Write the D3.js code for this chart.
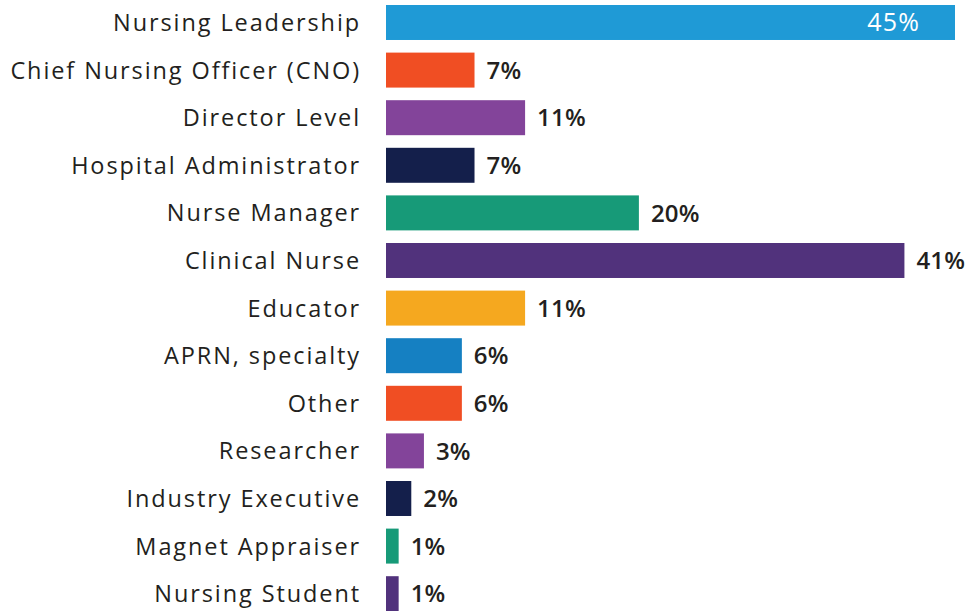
<!DOCTYPE html>
<html>
<head>
<meta charset="utf-8">
<script src="https://cdn.jsdelivr.net/npm/d3@7"></script>
<style>
  body { margin: 0; background: #fff; }
  svg { display: block; }
  .cat { font-family: "Open Sans", Lato, sans-serif; font-size: 23.5px; letter-spacing: 1.9px; fill: #231f20; }
  .val { font-family: "Open Sans", Lato, sans-serif; font-size: 24px; letter-spacing: 0.2px; font-weight: 600; fill: #231f20; }
  .val.inside { font-size: 25px; letter-spacing: 1.2px; font-weight: 500; fill: #fff; }
</style>
</head>
<body>
<svg id="chart" width="965" height="611"></svg>
<script>
var roles = ["Nursing Leadership", "Chief Nursing Officer (CNO)", "Director Level",
  "Hospital Administrator", "Nurse Manager", "Clinical Nurse", "Educator",
  "APRN, specialty", "Other", "Researcher", "Industry Executive",
  "Magnet Appraiser", "Nursing Student"];
var shares = [45, 7, 11, 7, 20, 41, 11, 6, 6, 3, 2, 1, 1];
var barColors = ["#1f9ad6", "#f04e23", "#83449a", "#141f4b", "#179a78", "#51327c",
  "#f5a81f", "#1580c2", "#f04e23", "#83449a", "#141f4b", "#179a78", "#51327c"];

var svg = d3.select("#chart");

var x = d3.scaleLinear().domain([0, 45]).range([386, 955]);

var step = 47.6, pad = 0.265;
var y0 = 5 - step * pad / 2;
var y = d3.scaleBand()
  .domain(roles)
  .range([y0, y0 + step * roles.length])
  .paddingInner(pad)
  .paddingOuter(pad / 2);

var rows = svg.selectAll(".row")
  .data(roles)
  .enter()
  .append("g")
  .attr("class", "row");

rows.append("rect")
  .attr("x", x(0))
  .attr("y", d => y(d))
  .attr("width", (d, i) => x(shares[i]) - x(0))
  .attr("height", y.bandwidth())
  .attr("fill", (d, i) => barColors[i]);

rows.append("text")
  .attr("class", "cat")
  .attr("x", 361)
  .attr("y", d => y(d) + y.bandwidth() / 2)
  .attr("dy", "0.36em")
  .attr("text-anchor", "end")
  .text(d => d);

// biggest bar gets its label inside, in white
rows.append("text")
  .attr("class", (d, i) => i == 0 ? "val inside" : "val")
  .attr("x", (d, i) => i == 0 ? x(shares[i]) - 35 : x(shares[i]) + 12)
  .attr("y", d => y(d) + y.bandwidth() / 2)
  .attr("dy", "0.36em")
  .attr("text-anchor", (d, i) => i == 0 ? "end" : "start")
  .text((d, i) => shares[i] + "%");
</script>
</body>
</html>
